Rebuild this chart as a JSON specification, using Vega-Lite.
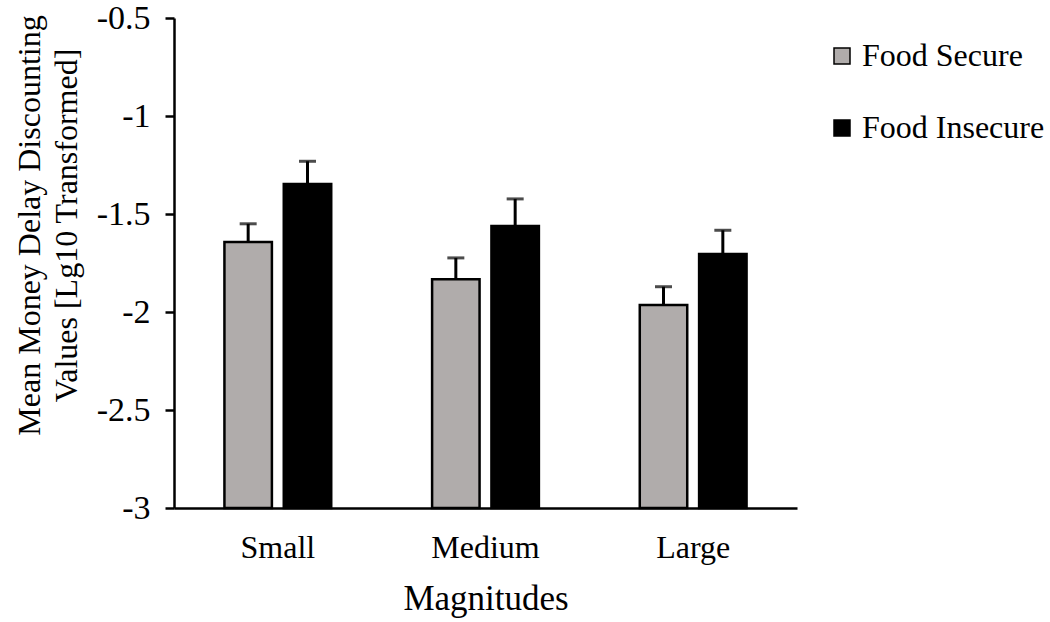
{
  "$schema": "https://vega.github.io/schema/vega-lite/v6.json",
  "autosize": {"type": "none"},
  "padding": {"left": 174, "top": 18, "right": 253, "bottom": 114},
  "width": 623,
  "height": 490,
  "background": "white",
  "config": {
    "font": "Liberation Serif",
    "view": {"stroke": null},
    "axis": {"labelFont": "Liberation Serif", "titleFont": "Liberation Serif", "labelColor": "black", "titleColor": "black", "titleFontWeight": "normal", "grid": false, "domainColor": "black", "tickColor": "black"},
    "legend": {"labelFont": "Liberation Serif", "labelColor": "black"}
  },
  "data": {
    "values": [
      {"mag": "Small", "group": "Food Secure", "mean": -1.643, "upper": -1.55},
      {"mag": "Small", "group": "Food Insecure", "mean": -1.347, "upper": -1.231},
      {"mag": "Medium", "group": "Food Secure", "mean": -1.833, "upper": -1.724},
      {"mag": "Medium", "group": "Food Insecure", "mean": -1.561, "upper": -1.423},
      {"mag": "Large", "group": "Food Secure", "mean": -1.964, "upper": -1.871},
      {"mag": "Large", "group": "Food Insecure", "mean": -1.704, "upper": -1.583}
    ]
  },
  "encoding": {
    "x": {
      "field": "mag", "type": "nominal", "sort": ["Small", "Medium", "Large"],
      "scale": {"paddingInner": 0, "paddingOuter": 0},
      "axis": {"title": "Magnitudes", "labelAngle": 0, "labelFontSize": 32, "titleFontSize": 35, "ticks": false, "labelPadding": 24, "titlePadding": 18, "domainWidth": 2.5}
    },
    "xOffset": {
      "field": "group", "type": "nominal", "sort": ["Food Secure", "Food Insecure"],
      "scale": {"paddingInner": 0.2, "paddingOuter": 0.85}
    }
  },
  "layer": [
    {
      "mark": {"type": "rule", "strokeWidth": 3, "color": "black"},
      "encoding": {
        "y": {"field": "mean", "type": "quantitative"},
        "y2": {"field": "upper"}
      }
    },
    {
      "mark": {"type": "tick", "size": 17, "thickness": 3, "color": "black"},
      "encoding": {
        "y": {"field": "upper", "type": "quantitative"}
      }
    },
    {
      "mark": {"type": "bar", "stroke": "black", "strokeWidth": 2.5},
      "encoding": {
        "y": {
          "field": "mean", "type": "quantitative",
          "scale": {"domain": [-3, -0.5], "zero": false, "nice": false},
          "axis": {
            "values": [-3, -2.5, -2, -1.5, -1, -0.5],
            "labelExpr": "'' + datum.value",
            "labelFontSize": 34,
            "titleFontSize": 32,
            "tickSize": 9,
            "tickWidth": 2.5,
            "domainWidth": 2.5,
            "labelPadding": 15,
            "title": ["Mean Money Delay Discounting", "Values [Lg10 Transformed]"],
            "titleLineHeight": 37,
            "titleAngle": -90,
            "titleX": -145,
            "titleY": 207,
            "titleAlign": "center",
            "titleBaseline": "middle"
          }
        },
        "y2": {"datum": -3},
        "color": {
          "field": "group", "type": "nominal",
          "sort": ["Food Secure", "Food Insecure"],
          "scale": {"domain": ["Food Secure", "Food Insecure"], "range": ["#b0acab", "#000000"]},
          "legend": {
            "title": null,
            "orient": "none",
            "legendX": 652,
            "legendY": 22,
            "symbolType": "square",
            "symbolSize": 256,
            "symbolStrokeColor": "black",
            "symbolStrokeWidth": 1.5,
            "labelFontSize": 32,
            "labelLimit": 400,
            "rowPadding": 40,
            "labelOffset": 4
          }
        }
      }
    }
  ]
}
